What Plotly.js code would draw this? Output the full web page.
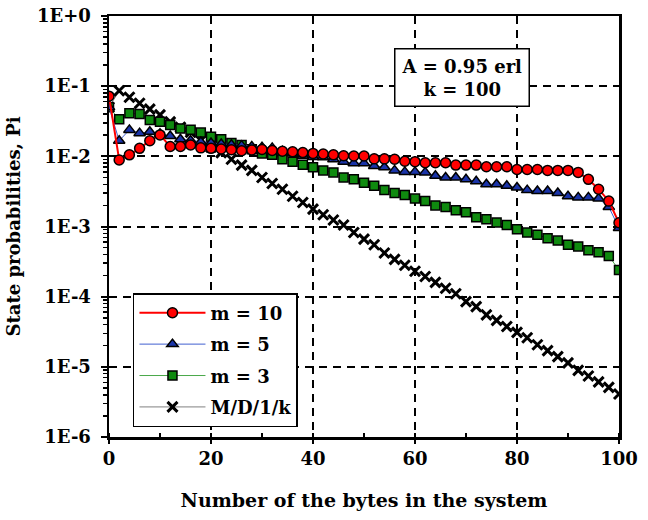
<!DOCTYPE html>
<html>
<head>
<meta charset="utf-8">
<script src="https://cdn.plot.ly/plotly-3.0.1.min.js"></script>
<style>html,body{margin:0;padding:0;background:#fff;}#chart{width:648px;height:520px;}</style>
</head>
<body>
<div id="chart"></div>
<script>
const bytes = [0,2,4,6,8,10,12,14,16,18,20,22,24,26,28,30,32,34,36,38,40,42,44,46,48,50,52,54,56,58,60,62,64,66,68,70,72,74,76,78,80,82,84,86,88,90,92,94,96,98,100];

const m10 = [0.072,0.0089,0.0105,0.013,0.0167,0.0202,0.0138,0.0138,0.0145,0.0132,0.013,0.0127,0.0124,0.012,0.0123,0.0125,0.0121,0.0118,0.0116,0.0113,0.011,0.0108,0.0105,0.0102,0.0101,0.0101,0.0092,0.0092,0.0091,0.0085,0.0084,0.0081,0.0081,0.0081,0.0075,0.0075,0.0075,0.0071,0.0071,0.0071,0.0065,0.0065,0.0065,0.0063,0.0063,0.0063,0.0059,0.0047,0.0034,0.0023,0.00113];

const m5 = [0.05,0.0167,0.0238,0.0214,0.0224,0.021,0.0195,0.0175,0.0168,0.016,0.0155,0.015,0.0146,0.0142,0.0138,0.0135,0.0132,0.0118,0.011,0.0102,0.0098,0.0097,0.0091,0.0084,0.008,0.008,0.0073,0.007,0.0063,0.006,0.006,0.0059,0.0053,0.005,0.005,0.0047,0.0044,0.004,0.004,0.0038,0.0036,0.0033,0.0032,0.0032,0.003,0.0027,0.0026,0.0026,0.0025,0.0019,0.00095];

const m3 = [0.05,0.0337,0.041,0.040,0.033,0.031,0.028,0.025,0.024,0.0218,0.019,0.0175,0.0155,0.0145,0.0126,0.011,0.0105,0.0091,0.0084,0.0076,0.007,0.0063,0.0059,0.005,0.0047,0.0042,0.0038,0.0033,0.003,0.0028,0.0025,0.0023,0.002,0.0019,0.0017,0.0016,0.00135,0.00127,0.00114,0.00105,0.00091,0.00082,0.00076,0.00068,0.00063,0.00055,0.00052,0.00046,0.00043,0.00038,0.00024];

const md1k = [0.05,0.086,0.0695,0.057,0.047,0.039,0.031,0.026,0.022,0.0168,0.0135,0.0113,0.0091,0.0075,0.0063,0.005,0.0041,0.0034,0.0027,0.0022,0.00177,0.00147,0.00124,0.00105,0.00082,0.00066,0.00055,0.00042,0.00034,0.00028,0.00023,0.000194,0.00016,0.000132,0.00011,0.000085,0.000072,0.000055,0.000046,0.0000375,0.000031,0.000026,0.0000206,0.000017,0.000014,0.0000114,0.0000089,0.0000074,0.0000061,0.0000051,0.0000041];

const seriesNames = ["m = 10","m = 5","m = 3","M/D/1/k"];
const yTickVals = [1e-6,1e-5,1e-4,1e-3,1e-2,1e-1,1];
const yTickText = ["1E-6","1E-5","1E-4","1E-3","1E-2","1E-1","1E+0"];
const xTickVals = [0,20,40,60,80,100];
const annotationText = "A = 0.95 erl<br>k = 100";

const FONT = {family: "DejaVu Serif, serif", size: 18, color: "#000", weight: "bold"};
const TFONT = {family: "DejaVu Serif, serif", size: 19, color: "#000", weight: "bold"};

const traces = [
  {x: bytes, y: md1k, name: seriesNames[3], legendgroup: "d", legendrank: 4, mode: "lines+markers",
   line: {color: "#808080", width: 1},
   marker: {symbol: "x-thin", size: 10, color: "#000", line: {color: "#000", width: 3}}},
  {x: bytes, y: m3, name: seriesNames[2], legendgroup: "c", legendrank: 3, mode: "lines+markers",
   line: {color: "#4aa84a", width: 1},
   marker: {symbol: "square", size: 9, color: "#0f8a0f", line: {color: "#000", width: 1.5}}},
  {x: bytes, y: m5, name: seriesNames[1], legendgroup: "b", legendrank: 2, mode: "lines+markers",
   line: {color: "#4060d0", width: 1},
   marker: {symbol: "triangle-up", size: 10, color: "#1a34a8", line: {color: "#000", width: 1.5}}},
  {x: bytes, y: m10, name: seriesNames[0], legendgroup: "a", legendrank: 1, mode: "lines+markers",
   line: {color: "#ff0000", width: 2},
   marker: {symbol: "circle", size: 10, color: "#ff0000", line: {color: "#000", width: 1.5}}}
];

const layout = {
  width: 648, height: 520,
  margin: {l: 109, r: 29, t: 16, b: 83},
  paper_bgcolor: "#fff", plot_bgcolor: "#fff",
  font: FONT,
  showlegend: true,
  legend: {
    x: 0.047, y: 0.342, xanchor: "left", yanchor: "top",
    bgcolor: "#fff", bordercolor: "#000", borderwidth: 1.5,
    traceorder: "grouped", tracegroupgap: 5, itemwidth: 66,
    font: FONT
  },
  xaxis: {
    range: [0, 100], tickvals: xTickVals, ticks: "outside", ticklen: 4, tickwidth: 2,
    tickcolor: "#000", showline: true, linecolor: "#000", linewidth: 2.5, mirror: true,
    showgrid: true, gridcolor: "#000", gridwidth: 2.5, griddash: "8px,6px",
    zeroline: false, tickfont: FONT,
    minor: {dtick: 10, ticks: "inside", ticklen: 4, tickwidth: 1.5, tickcolor: "#000", showgrid: false},
    title: {text: "Number of the bytes in the system", font: TFONT, standoff: 26}
  },
  yaxis: {
    type: "log", range: [-6, 0], tickvals: yTickVals, ticktext: yTickText,
    ticks: "outside", ticklen: 6, tickwidth: 2, tickcolor: "#000", ticklabelstandoff: 6,
    showline: true, linecolor: "#000", linewidth: 2.5, mirror: true,
    showgrid: true, gridcolor: "#000", gridwidth: 2, griddash: "8px,6px",
    zeroline: false, tickfont: FONT,
    minor: {dtick: "D1", ticks: "outside", ticklen: 4, tickwidth: 1.5, tickcolor: "#000", showgrid: false},
    title: {text: "State probabilities, Pi", font: FONT, standoff: 12}
  },
  annotations: [{
    xref: "paper", yref: "paper", x: 0.692, y: 0.853, xanchor: "center", yanchor: "middle",
    text: annotationText, showarrow: false, align: "center",
    font: FONT, bgcolor: "#fff", bordercolor: "#000", borderwidth: 1.5, borderpad: 6
  }]
};

Plotly.newPlot("chart", traces, layout, {displayModeBar: false, staticPlot: true});
</script>
</body>
</html>
